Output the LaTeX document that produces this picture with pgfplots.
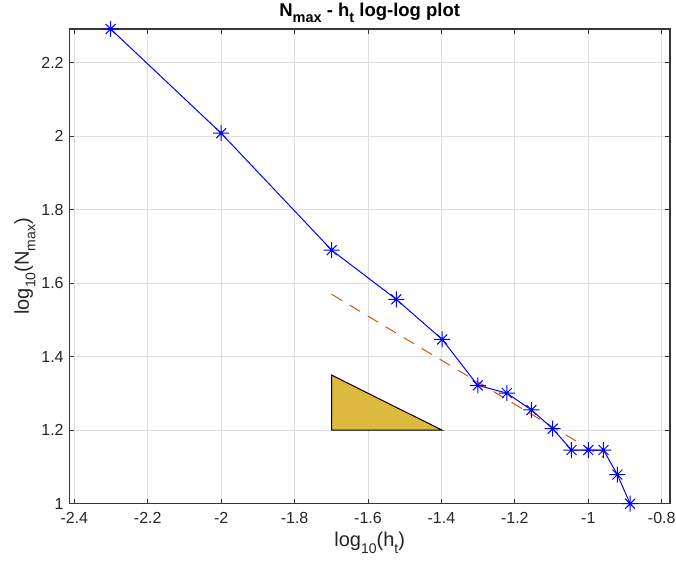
\documentclass[border=0pt]{standalone}
\usepackage{fontspec}
\setmainfont{Liberation Sans}
\usepackage{pgfplots}
\pgfplotsset{compat=1.18}
\definecolor{mblue}{RGB}{0,0,255}
\definecolor{morange}{RGB}{217,83,25}
\definecolor{mfill}{RGB}{221,185,61}
\definecolor{mgrid}{RGB}{222,222,222}
\definecolor{maxis}{RGB}{55,55,55}
\newcommand{\lsub}[1]{\raisebox{-0.32em}{\fontsize{14}{14}\selectfont #1}}
\newcommand{\tsub}[1]{\raisebox{-0.32em}{\fontsize{14.5}{14.5}\selectfont\bfseries #1}}
\pgfdeclareplotmark{mstar}{%
  \pgfpathmoveto{\pgfqpoint{-\pgfplotmarksize}{0pt}}%
  \pgfpathlineto{\pgfqpoint{\pgfplotmarksize}{0pt}}%
  \pgfpathmoveto{\pgfqpoint{0pt}{-\pgfplotmarksize}}%
  \pgfpathlineto{\pgfqpoint{0pt}{\pgfplotmarksize}}%
  \pgfpathmoveto{\pgfqpoint{-0.62\pgfplotmarksize}{-0.62\pgfplotmarksize}}%
  \pgfpathlineto{\pgfqpoint{0.62\pgfplotmarksize}{0.62\pgfplotmarksize}}%
  \pgfpathmoveto{\pgfqpoint{-0.62\pgfplotmarksize}{0.62\pgfplotmarksize}}%
  \pgfpathlineto{\pgfqpoint{0.62\pgfplotmarksize}{-0.62\pgfplotmarksize}}%
  \pgfusepathqstroke}
\begin{document}
\begin{tikzpicture}[x=1pt,y=1pt]
\useasboundingbox (0,0) rectangle (676,565);
\begin{axis}[
  at={(69.3pt,61.3pt)}, anchor=south west,
  scale only axis, width=600.7pt, height=474.7pt,
  xmin=-2.4136, xmax=-0.7774, ymin=1, ymax=2.29226,
  xtick={-2.4,-2.2,-2,-1.8,-1.6,-1.4,-1.2,-1,-0.8},
  xticklabels={-2.4,-2.2,-2,-1.8,-1.6,-1.4,-1.2,-1,-0.8},
  ytick={1,1.2,1.4,1.6,1.8,2,2.2},
  yticklabels={1,1.2,1.4,1.6,1.8,2,2.2},
  grid=major, grid style={mgrid, line width=1pt},
  tick align=inside, major tick length=5pt,
  tick style={maxis, line width=1pt},
  axis line style={maxis, line width=1.1pt},
  ticklabel style={font=\fontsize{16}{16}\selectfont, text=black!85, inner sep=0pt},
  xticklabel style={yshift=-8.8pt},
  yticklabel style={xshift=-5.5pt},
  xlabel={log\lsub{10}(h\lsub{t})},
  ylabel={log\lsub{10}(N\lsub{max})},
  xlabel style={at={(axis description cs:0.5,-0.0906)}, anchor=base, font=\fontsize{20}{20}\selectfont, text=black!85},
  ylabel style={at={(axis description cs:-0.0671,0.5)}, anchor=base, rotate=0, font=\fontsize{20}{20}\selectfont, text=black!85},
  title={N\tsub{max} - h\tsub{t} log-log plot},
  title style={at={(axis description cs:0.5,1.0130)}, anchor=base, font=\bfseries\fontsize{18.5}{18.5}\selectfont},
]
\addplot[mblue, line width=1pt, mark=mstar, mark size=8pt, mark options={line width=1pt}] coordinates {
(-2.30103,2.29226) (-2,2.00860) (-1.69897,1.69020) (-1.52288,1.55630)
(-1.39794,1.44716) (-1.30103,1.32222) (-1.22185,1.30103) (-1.15490,1.25527)
(-1.09691,1.20412) (-1.04576,1.14613) (-1,1.14613) (-0.95861,1.14613)
(-0.92082,1.07918) (-0.88606,1)
};
\addplot[morange, line width=1pt, dash pattern=on 12pt off 9pt] coordinates {
(-1.69897,1.5700) (-0.95861,1.1258)
};
\addplot[draw=black, line width=1pt, fill=mfill] coordinates {
(-1.69897,1.35) (-1.69897,1.2) (-1.39794,1.2)
} -- cycle;
\end{axis}
\end{tikzpicture}
\end{document}
